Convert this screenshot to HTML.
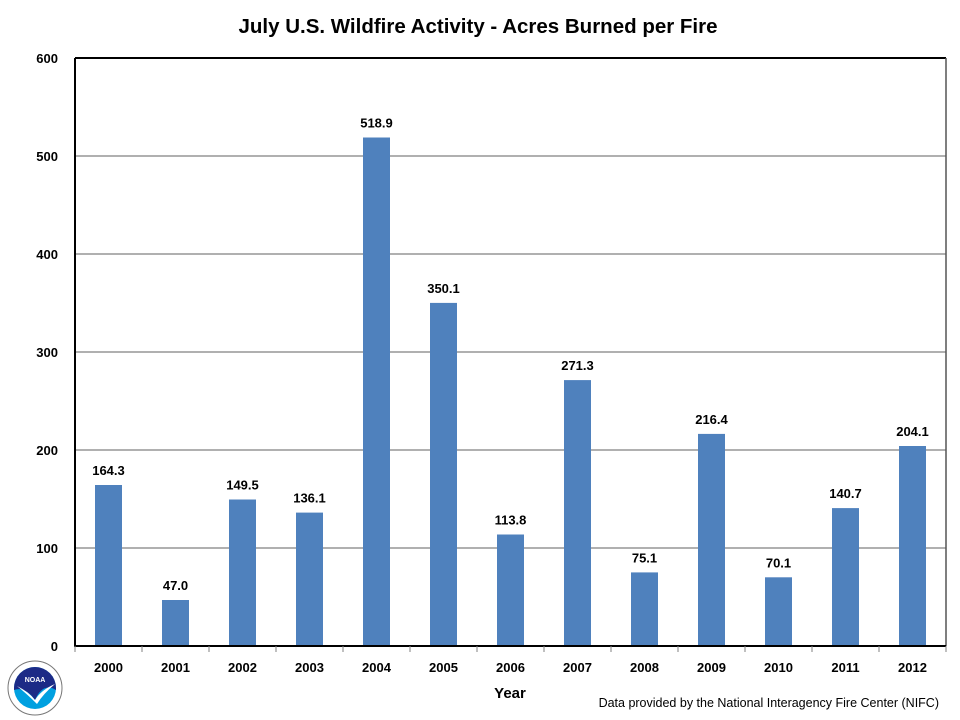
<!DOCTYPE html>
<html><head><style>body{margin:0;background:#fff}svg{display:block;font-family:"Liberation Sans",Arial,sans-serif}</style></head><body>
<svg width="960" height="720" xmlns="http://www.w3.org/2000/svg">
<rect width="960" height="720" fill="#fff"/>
<text x="478" y="33" font-size="20.5" font-weight="bold" text-anchor="middle">July U.S. Wildfire Activity - Acres Burned per Fire</text>
<g stroke="#808080" stroke-width="1.3">
<line x1="75" y1="548" x2="946" y2="548"/><line x1="75" y1="450" x2="946" y2="450"/><line x1="75" y1="352" x2="946" y2="352"/><line x1="75" y1="254" x2="946" y2="254"/><line x1="75" y1="156" x2="946" y2="156"/>
</g>
<line x1="75" y1="58" x2="946" y2="58" stroke="#000" stroke-width="2"/>
<line x1="946" y1="58" x2="946" y2="646" stroke="#555" stroke-width="1.5"/>
<g fill="#4f81bd">
<rect x="95" y="485" width="27" height="161"/>
<rect x="162" y="600" width="27" height="46"/>
<rect x="229" y="499.5" width="27" height="146.5"/>
<rect x="296" y="512.6" width="27" height="133.4"/>
<rect x="363" y="137.5" width="27" height="508.5"/>
<rect x="430" y="302.9" width="27" height="343.1"/>
<rect x="497" y="534.5" width="27" height="111.5"/>
<rect x="564" y="380.1" width="27" height="265.9"/>
<rect x="631" y="572.4" width="27" height="73.6"/>
<rect x="698" y="433.9" width="27" height="212.1"/>
<rect x="765" y="577.3" width="27" height="68.7"/>
<rect x="832" y="508.1" width="27" height="137.9"/>
<rect x="899" y="446" width="27" height="200"/>
</g>
<line x1="75" y1="58" x2="75" y2="647" stroke="#000" stroke-width="2"/>
<line x1="74" y1="646" x2="946" y2="646" stroke="#000" stroke-width="2"/>
<g stroke="#808080" stroke-width="1">
<line x1="75" y1="646" x2="75" y2="652"/><line x1="142" y1="646" x2="142" y2="652"/><line x1="209" y1="646" x2="209" y2="652"/><line x1="276" y1="646" x2="276" y2="652"/><line x1="343" y1="646" x2="343" y2="652"/><line x1="410" y1="646" x2="410" y2="652"/><line x1="477" y1="646" x2="477" y2="652"/><line x1="544" y1="646" x2="544" y2="652"/><line x1="611" y1="646" x2="611" y2="652"/><line x1="678" y1="646" x2="678" y2="652"/><line x1="745" y1="646" x2="745" y2="652"/><line x1="812" y1="646" x2="812" y2="652"/><line x1="879" y1="646" x2="879" y2="652"/><line x1="946" y1="646" x2="946" y2="652"/>
</g>
<g font-size="13" font-weight="bold" text-anchor="end">
<text x="58" y="651">0</text><text x="58" y="553">100</text><text x="58" y="455">200</text><text x="58" y="357">300</text><text x="58" y="259">400</text><text x="58" y="161">500</text><text x="58" y="63">600</text>
</g>
<g font-size="13" font-weight="bold" text-anchor="middle">
<text x="108.5" y="672">2000</text><text x="175.5" y="672">2001</text><text x="242.5" y="672">2002</text><text x="309.5" y="672">2003</text><text x="376.5" y="672">2004</text><text x="443.5" y="672">2005</text><text x="510.5" y="672">2006</text><text x="577.5" y="672">2007</text><text x="644.5" y="672">2008</text><text x="711.5" y="672">2009</text><text x="778.5" y="672">2010</text><text x="845.5" y="672">2011</text><text x="912.5" y="672">2012</text>
<text x="108.5" y="475">164.3</text><text x="175.5" y="590">47.0</text><text x="242.5" y="489.5">149.5</text><text x="309.5" y="502.6">136.1</text><text x="376.5" y="127.5">518.9</text><text x="443.5" y="292.9">350.1</text><text x="510.5" y="524.5">113.8</text><text x="577.5" y="370.1">271.3</text><text x="644.5" y="562.4">75.1</text><text x="711.5" y="423.9">216.4</text><text x="778.5" y="567.3">70.1</text><text x="845.5" y="498.1">140.7</text><text x="912.5" y="436">204.1</text>
</g>
<text x="510" y="698" font-size="15" font-weight="bold" text-anchor="middle">Year</text>
<text x="939" y="707" font-size="12.5" text-anchor="end">Data provided by the National Interagency Fire Center (NIFC)</text>
<g transform="translate(35,688)">
<circle r="27" fill="#fff" stroke="#777" stroke-width="1"/>
<circle r="21" fill="#00a0e0"/>
<path d="M-21,0 A21,21 0 0 1 21,0 L21,2 Q8,-6 0,12 Q-10,-2 -21,2 Z" fill="#1c2a86"/>
<path d="M-18,-2 Q-6,4 0,12 Q6,2 20,-4 Q8,6 2,16 Q-8,6 -18,-2Z" fill="#fff"/>
<text x="0" y="-6" font-size="7" font-weight="bold" fill="#fff" text-anchor="middle">NOAA</text>
</g>
</svg>
</body></html>
